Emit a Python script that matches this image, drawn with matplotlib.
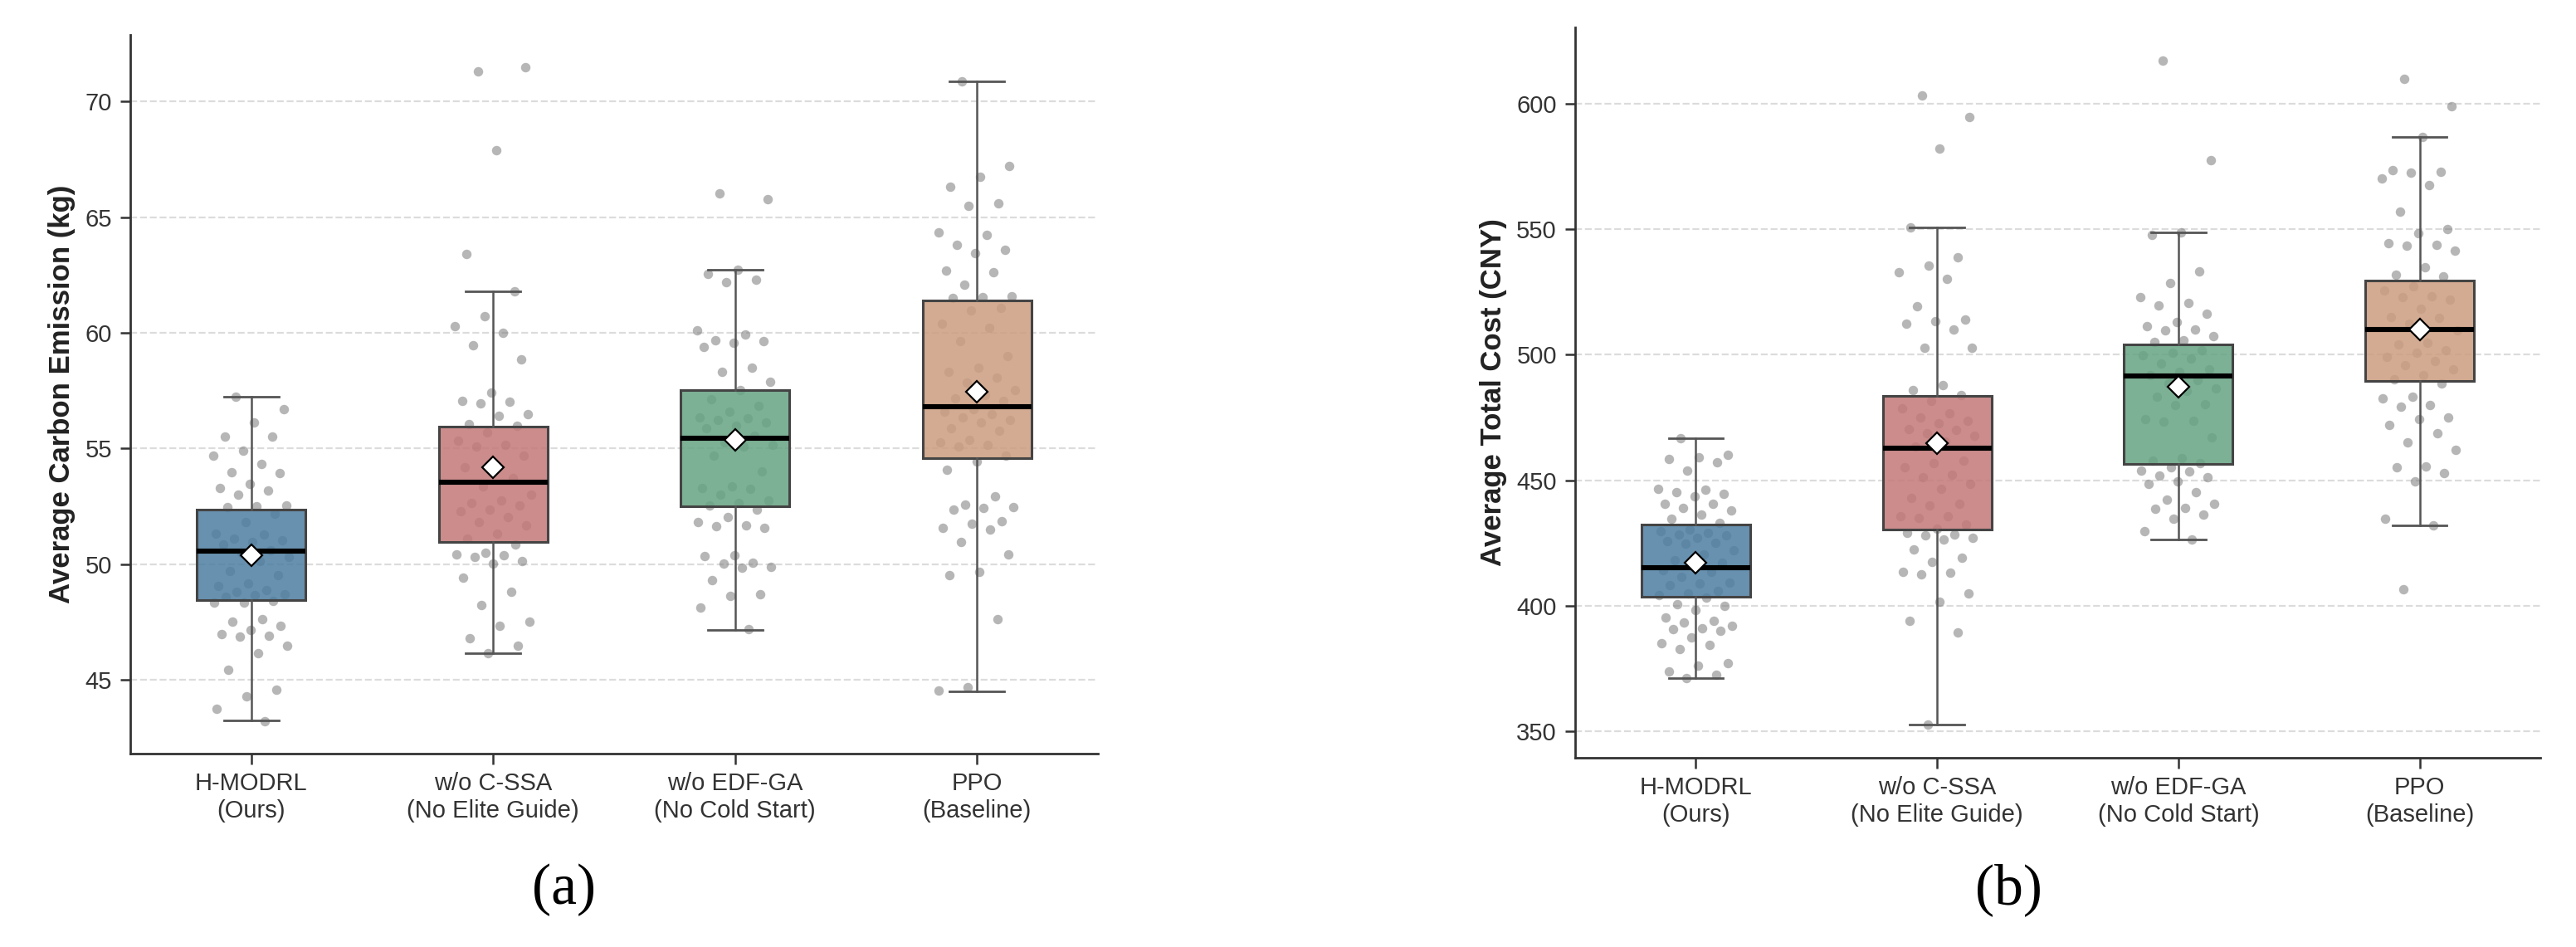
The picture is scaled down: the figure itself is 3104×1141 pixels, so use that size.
import numpy as np
import matplotlib
matplotlib.use("Agg")
import matplotlib.pyplot as plt
from matplotlib.colors import to_rgba

plt.rcParams["font.family"] = ["Liberation Sans", "DejaVu Sans"]

methods = ["H-MODRL\n(Ours)", "w/o C-SSA\n(No Elite Guide)",
           "w/o EDF-GA\n(No Cold Start)", "PPO\n(Baseline)"]
box_colors = ["#4D7EA1", "#C47878", "#66A483", "#CC9D7F"]

# ---- (a) average carbon emission per run (kg)
carbon_hmodrl = [57.24, 56.71, 56.11, 55.53, 55.51, 54.91, 54.68, 54.35, 53.96, 53.94,
                 53.48, 53.30, 53.18, 53.00, 52.55, 52.50, 52.47,
                 52.17, 51.81, 51.33, 51.30, 51.09, 51.05, 50.97, 50.85, 50.61, 50.50,
                 50.32, 50.14, 49.72, 49.54, 49.18, 49.06, 48.88, 48.82, 48.70, 48.68, 48.58,
                 48.41, 48.35, 48.33, 47.63, 47.51, 47.33, 47.15, 46.97, 46.91, 46.88,
                 46.49, 46.14, 45.44, 44.58, 44.29, 43.77, 43.23]
carbon_cssa = [71.28, 71.46, 67.87, 63.39, 61.78, 60.71, 60.29, 60.01, 59.45, 58.86,
               57.42, 57.06, 57.04, 56.95, 56.47, 56.41, 56.05, 55.99,
               55.69, 55.33, 55.15, 55.09, 54.68, 54.32, 54.20, 53.72, 53.36, 53.00,
               52.77, 52.65, 52.53, 52.35, 52.29, 52.05, 51.81, 51.69, 51.33, 51.09,
               50.85, 50.50, 50.44, 50.38, 50.32, 50.14, 50.02, 49.42, 48.82, 48.23,
               47.51, 47.33, 46.79, 46.49, 46.17]
carbon_edfga = [66.02, 65.78, 62.74, 62.56, 62.30, 62.20, 60.11, 59.93, 59.69, 59.63,
                59.57, 59.39, 58.50, 58.32, 57.90, 57.54,
                57.12, 56.83, 56.59, 56.35, 56.29, 56.23, 56.11, 55.99, 55.87, 55.57,
                55.27, 55.15, 55.09, 54.68, 54.02, 53.36, 53.30, 53.24, 53.00, 52.77,
                52.65, 52.53,
                52.35, 52.05, 51.81, 51.69, 51.63, 51.57, 50.38, 50.35, 50.08, 50.04,
                49.90, 49.84, 49.30, 48.70, 48.64, 48.13, 47.18]
carbon_ppo = [70.86, 67.22, 66.74, 66.32, 65.60, 65.48, 64.35, 64.23, 63.81, 63.57,
              63.45, 62.68, 62.62, 62.08, 61.58, 61.54, 61.51,
              61.07, 60.95, 60.41, 60.23, 59.63, 58.98, 58.50, 58.32, 58.08, 57.84,
              57.54, 57.30, 57.18, 57.06, 56.71, 56.59, 56.47, 56.35, 56.23, 56.11,
              55.87, 55.75, 55.39, 55.27, 55.15, 55.09, 54.68,
              54.44, 54.08, 52.95, 52.59, 52.47, 52.43, 52.35, 51.87, 51.75, 51.57,
              51.51, 50.95, 50.44, 49.68, 49.54, 47.63, 44.70, 44.53]

# box stats: q1, median, q3, lower whisker, upper whisker, mean
carbon_q1 = [48.46, 50.96, 52.49, 54.57]
carbon_med = [50.57, 53.56, 55.44, 56.82]
carbon_q3 = [52.35, 55.93, 57.54, 61.39]
carbon_lo = [43.27, 46.17, 47.16, 44.52]
carbon_hi = [57.23, 61.78, 62.74, 70.86]
carbon_mean = [50.40, 54.19, 55.37, 57.45]

# ---- (b) average total cost per run (CNY)
cost_hmodrl = [466.6, 460.0, 459.0, 458.3, 457.2, 453.9, 446.7, 446.2, 445.1, 444.5,
               443.4, 440.7, 440.5, 439.0, 437.9, 436.2, 434.6, 432.9,
               430.2, 429.6, 429.1, 428.5, 428.0, 426.9, 425.8, 425.2, 424.7, 421.9,
               420.3, 418.0, 417.0, 415.8, 414.2, 413.6, 411.4, 409.2, 408.7, 408.1,
               405.9, 404.8, 404.3,
               403.2, 400.4, 399.8, 398.2, 395.4, 393.8, 393.2, 392.1, 391.0, 390.5,
               389.9, 387.2, 385.0, 384.4, 382.7, 377.2, 376.1, 373.9, 372.3, 371.2]
cost_cssa = [603.2, 594.8, 582.1, 550.8, 538.9, 535.6, 533.0, 530.3, 519.3, 514.0,
             513.5, 512.4, 510.2, 502.8, 502.6, 487.8, 485.9, 484.0,
             481.5, 478.7, 476.5, 474.9, 473.8, 472.7, 470.5, 469.9, 468.8, 467.7,
             465.5, 463.3, 457.8, 456.7, 455.0, 452.3, 451.1, 448.4, 446.7, 442.9,
             440.7, 440.0, 435.7, 435.5, 435.0, 432.4, 430.7,
             429.1, 428.5, 428.0, 426.9, 426.3, 422.5, 419.2, 417.5, 413.6, 413.1,
             412.5, 404.8, 401.5, 393.8, 389.4, 352.6]
cost_edfga = [617.2, 577.5, 548.8, 547.7, 533.3, 528.4, 522.9, 520.7, 519.6, 516.2,
              513.0, 511.3, 510.2, 509.6, 507.4, 505.8, 505.2,
              501.9, 500.8, 499.7, 498.6, 496.4, 494.2, 493.1, 492.0, 489.8, 488.7,
              486.5, 485.4, 483.1, 480.4, 479.8, 474.3, 473.8, 473.2, 467.1, 458.9,
              457.8, 456.7,
              455.0, 453.9, 453.4, 451.7, 451.1, 449.5, 448.4, 445.1, 442.3, 440.7,
              439.0, 438.7, 436.3, 434.6, 429.6, 426.3]
cost_ppo = [610.0, 599.0, 586.9, 573.6, 573.0, 572.5, 570.3, 567.5, 557.1, 549.9,
            548.3, 544.4, 543.8, 543.3, 541.6, 535.0, 531.7, 531.1,
            527.3, 525.6, 523.4, 522.9, 521.8, 518.4, 515.1, 514.6, 512.4, 509.6,
            504.7, 504.1, 501.9, 500.8, 499.1, 497.5, 495.9, 494.2, 492.0, 490.3,
            488.7, 483.1, 482.6, 479.8, 479.3, 474.9, 474.3, 472.1, 468.8, 464.9,
            462.2, 455.6, 455.0, 452.8, 449.5, 434.6, 432.1, 406.5]

cost_q1 = [403.5, 430.2, 456.3, 489.4]
cost_med = [415.2, 462.8, 491.4, 510.2]
cost_q3 = [432.4, 483.5, 504.1, 529.5]
cost_lo = [371.2, 352.6, 426.3, 432.1]
cost_hi = [466.6, 550.8, 548.8, 586.9]
cost_mean = [416.95, 464.6, 487.2, 510.0]


def jitter(n, width=0.32):
    # evenly spread offsets (golden-ratio sequence), no randomness
    return ((np.arange(n) * 0.618034 + 0.3) % 1.0 - 0.5) * width


def panel(ax, groups, q1, med, q3, lo, hi, mean, ylabel):
    for i, vals in enumerate(groups):
        ax.scatter(i + jitter(len(vals)), vals, s=17, color="#7a7a7a",
                   alpha=0.55, linewidths=0, zorder=2)

    stats = []
    for k in range(len(groups)):
        stats.append(dict(q1=q1[k], med=med[k], q3=q3[k], whislo=lo[k],
                          whishi=hi[k], mean=mean[k], fliers=[]))
    bp = ax.bxp(stats, positions=range(len(groups)), widths=0.45,
                patch_artist=True, showmeans=True, showfliers=False, zorder=3,
                boxprops=dict(edgecolor="#444444", linewidth=1.1),
                whiskerprops=dict(color="#555555", linewidth=0.9),
                capprops=dict(color="#555555", linewidth=1.0),
                medianprops=dict(color="black", linewidth=2.2, zorder=4),
                meanprops=dict(marker="D", markerfacecolor="white",
                               markeredgecolor="black", markeredgewidth=0.8,
                               markersize=6.5, zorder=5))
    for patch, c in zip(bp["boxes"], box_colors):
        patch.set_facecolor(to_rgba(c, 0.85))

    ax.set_xlim(-0.5, len(groups) - 0.5)
    ax.set_xticks(range(len(groups)))
    ax.set_xticklabels(methods)
    ax.set_ylabel(ylabel, fontsize=12.5, fontweight="bold", color="#222222")
    ax.yaxis.grid(True, linestyle="--", color="#dcdcdc", linewidth=0.8)
    ax.set_axisbelow(True)
    for side in ("top", "right"):
        ax.spines[side].set_visible(False)
    for side in ("left", "bottom"):
        ax.spines[side].set_linewidth(1.0)
        ax.spines[side].set_color("#333333")
    ax.tick_params(axis="both", length=4.5, width=0.9, color="#333333",
                   labelcolor="#333333", labelsize=10.5)


fig = plt.figure(figsize=(15.52, 5.705), dpi=200)
ax1 = fig.add_axes([0.0506, 0.2042, 0.3756, 0.759])
ax2 = fig.add_axes([0.6115, 0.1998, 0.3746, 0.7713])

panel(ax1, [carbon_hmodrl, carbon_cssa, carbon_edfga, carbon_ppo],
      carbon_q1, carbon_med, carbon_q3, carbon_lo, carbon_hi, carbon_mean,
      "Average Carbon Emission (kg)")
ax1.set_yticks([45, 50, 55, 60, 65, 70])

panel(ax2, [cost_hmodrl, cost_cssa, cost_edfga, cost_ppo],
      cost_q1, cost_med, cost_q3, cost_lo, cost_hi, cost_mean,
      "Average Total Cost (CNY)")
ax2.set_yticks([350, 400, 450, 500, 550, 600])

fig.text(679 / 3104, 1 - 1072 / 1141, "(a)", ha="center", va="center",
         fontsize=25, family="Liberation Serif")
fig.text(2420 / 3104, 1 - 1072 / 1141, "(b)", ha="center", va="center",
         fontsize=25, family="Liberation Serif")

fig.savefig("out.png", dpi=200)
